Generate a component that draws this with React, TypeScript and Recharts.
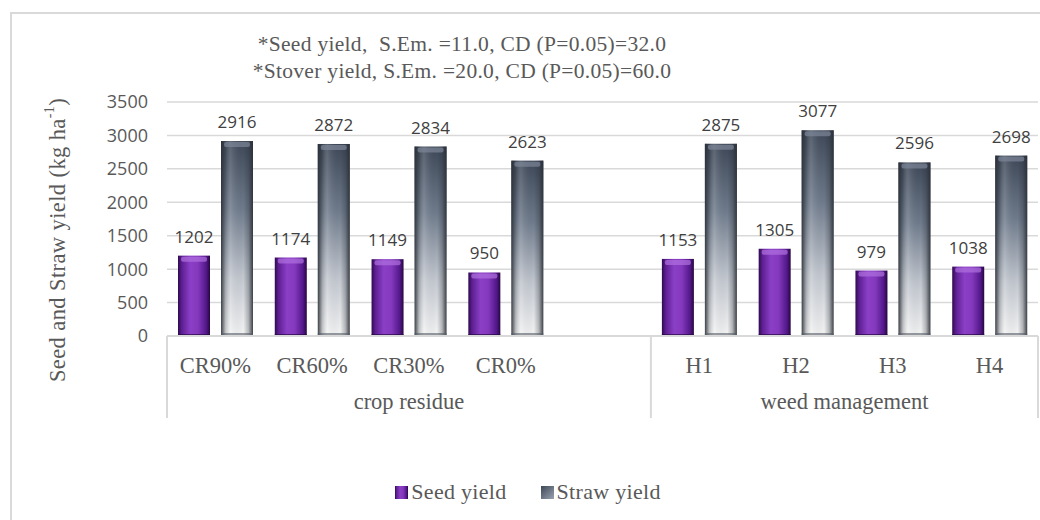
import React from "react";
import { BarChart, Bar, XAxis, YAxis, CartesianGrid, LabelList, Legend } from "recharts";

const categories = ["CR90%", "CR60%", "CR30%", "CR0%", "", "H1", "H2", "H3", "H4"];
const groups = [
  "crop residue", "crop residue", "crop residue", "crop residue", "crop residue",
  "weed management", "weed management", "weed management", "weed management",
];
const seedYield = [1202, 1174, 1149, 950, null, 1153, 1305, 979, 1038];
const strawYield = [2916, 2872, 2834, 2623, null, 2875, 3077, 2596, 2698];
const yTicks = [0, 500, 1000, 1500, 2000, 2500, 3000, 3500];
const titleLines = [
  "*Seed yield,  S.Em. =11.0, CD (P=0.05)=32.0",
  "*Stover yield, S.Em. =20.0, CD (P=0.05)=60.0",
];

const data = categories.map((cat, i) => ({
  cat,
  group: groups[i],
  seed: seedYield[i],
  straw: strawYield[i],
}));

const SERIF = "'Liberation Serif', 'Times New Roman', serif";
const SANS = "'Open Sans', 'Liberation Sans', sans-serif";
const GRID = "#d9d9d9";
const TEXT = "#595959";

function SeedShape(p: any) {
  const { x, y, width, height } = p;
  if (!height || height <= 0) return null;
  return (
    <g>
      <rect x={x} y={y} width={width} height={height} fill="url(#seedH)" />
      <rect x={x + 3} y={y + 1} width={width - 6} height={5} fill="#b070e0" opacity={0.7} rx={2} />
      <rect x={x} y={y + height - 2} width={width} height={2} fill="#2a0848" opacity={0.7} />
    </g>
  );
}

function StrawShape(p: any) {
  const { x, y, width, height } = p;
  if (!height || height <= 0) return null;
  return (
    <g>
      <rect x={x} y={y} width={width} height={height} fill="url(#strawV)" />
      <rect x={x} y={y} width={width} height={height} fill="url(#strawH)" />
      <rect x={x + 3} y={y + 1} width={width - 6} height={5} fill="#7d8898" opacity={0.7} rx={2} />
      <rect x={x} y={y + height - 3} width={width} height={3} fill="#555c66" opacity={0.6} />
    </g>
  );
}

function CatTick(props: any) {
  const { x, y, payload } = props;
  const i: number = payload.index ?? props.index;
  const off: number = payload.offset ?? 0;
  const first = i === 0 || groups[i - 1] !== groups[i];
  const n = groups.filter((g) => g === groups[i]).length;
  const last = i === categories.length - 1;
  const txt = { fontFamily: SERIF, fontSize: 22.5, fill: TEXT };
  return (
    <g>
      {categories[i] ? (
        <text x={x} y={y + 37} textAnchor="middle" style={txt}>
          {categories[i]}
        </text>
      ) : null}
      {first ? (
        <>
          <line x1={x - off} x2={x - off} y1={y} y2={y + 82} stroke={GRID} strokeWidth={2} />
          <text x={x - off + n * off} y={y + 73} textAnchor="middle" style={txt}>
            {groups[i]}
          </text>
        </>
      ) : null}
      {last ? <line x1={x + off} x2={x + off} y1={y} y2={y + 82} stroke={GRID} strokeWidth={2} /> : null}
    </g>
  );
}

function YLabel(p: any) {
  const vb = p.viewBox || { x: 0, y: 102, width: 167, height: 234 };
  const cx = vb.x + 57;
  const cy = vb.y + vb.height / 2 + 21;
  return (
    <text
      x={cx}
      y={cy}
      transform={`rotate(-90, ${cx}, ${cy})`}
      textAnchor="middle"
      dominantBaseline="central"
      style={{ fontFamily: SERIF, fontSize: 22.5, letterSpacing: 0.4, fill: TEXT }}
    >
      Seed and Straw yield (kg ha
      <tspan style={{ fontSize: 14 }} dy={-8}>-1</tspan>
      <tspan dy={8}>)</tspan>
    </text>
  );
}

function LegendContent(p: any) {
  const items = p.payload || [];
  return (
    <div style={{ display: "flex", justifyContent: "center", paddingLeft: 16, gap: 34 }}>
      {items.map((it: any) => (
        <div key={it.value} style={{ display: "flex", alignItems: "center", gap: 3 }}>
          <svg width={13} height={13}>
            <rect width={13} height={13} fill={it.dataKey === "seed" ? "url(#seedH)" : "url(#strawLeg)"} />
          </svg>
          <span style={{ fontFamily: SERIF, fontSize: 22, color: TEXT, letterSpacing: 0.3 }}>{it.value}</span>
        </div>
      ))}
    </div>
  );
}

export default function App() {
  return (
    <div style={{ position: "absolute", left: 0, top: 0, width: 1040, height: 520, background: "#fff", overflow: "hidden" }}>
      <div
        style={{ position: "absolute", left: 10, top: 12, width: 1100, height: 600, border: `2px solid ${GRID}` }}
      />
      <div
        style={{
          position: "absolute",
          left: 462,
          top: 31,
          transform: "translateX(-50%)",
          fontFamily: SERIF,
          fontSize: 21.5,
          lineHeight: "27px",
          letterSpacing: 0.3,
          color: TEXT,
          whiteSpace: "pre",
          textAlign: "center",
          zIndex: 2,
        }}
      >
        {titleLines.map((t) => (
          <div key={t}>{t}</div>
        ))}
      </div>
      <div style={{ position: "absolute", left: 0, top: 0 }}>
        <BarChart
          width={1040}
          height={520}
          data={data}
          margin={{ top: 102, right: 2, left: 0, bottom: 99 }}
          barGap={11}
          barCategoryGap={11}
        >
          <defs>
            <linearGradient id="seedH" x1="0" y1="0" x2="1" y2="0">
              <stop offset="0%" stopColor="#2e0a50" />
              <stop offset="12%" stopColor="#5e1f92" />
              <stop offset="38%" stopColor="#8a3fc6" />
              <stop offset="62%" stopColor="#8439bd" />
              <stop offset="88%" stopColor="#53188a" />
              <stop offset="100%" stopColor="#26073f" />
            </linearGradient>
            <linearGradient id="strawV" x1="0" y1="0" x2="0" y2="1">
              <stop offset="0%" stopColor="#3d4757" />
              <stop offset="35%" stopColor="#6f7b8c" />
              <stop offset="70%" stopColor="#c3c8d0" />
              <stop offset="100%" stopColor="#f4f4f4" />
            </linearGradient>
            <linearGradient id="strawH" x1="0" y1="0" x2="1" y2="0">
              <stop offset="0%" stopColor="#2a2f36" stopOpacity={0.9} />
              <stop offset="14%" stopColor="#2a2f36" stopOpacity={0.25} />
              <stop offset="30%" stopColor="#ffffff" stopOpacity={0.15} />
              <stop offset="70%" stopColor="#2a2f36" stopOpacity={0} />
              <stop offset="86%" stopColor="#2a2f36" stopOpacity={0.3} />
              <stop offset="100%" stopColor="#2a2f36" stopOpacity={0.9} />
            </linearGradient>
            <linearGradient id="strawLeg" x1="0" y1="0" x2="1" y2="1">
              <stop offset="0%" stopColor="#3d4757" />
              <stop offset="100%" stopColor="#9aa3b0" />
            </linearGradient>
          </defs>
          <CartesianGrid vertical={false} stroke={GRID} strokeWidth={1.5} />
          <XAxis
            dataKey="cat"
            interval={0}
            height={85}
            tickSize={0}
            tickMargin={0}
            tickLine={false}
            axisLine={{ stroke: GRID, strokeWidth: 2 }}
            tick={<CatTick />}
          />
          <YAxis
            width={167}
            domain={[0, 3500]}
            ticks={yTicks}
            interval={0}
            axisLine={false}
            tickLine={false}
            tickSize={0}
            tickMargin={19}
            tick={{ fontFamily: SANS, fontSize: 18, fill: TEXT }}
            label={{ content: <YLabel /> }}
          />
          <Legend
            layout="vertical"
            verticalAlign="middle"
            align="center"
            wrapperStyle={{ position: "absolute", top: 479, left: 0, width: 1040 }}
            content={<LegendContent />}
          />
          <Bar dataKey="seed" name="Seed yield" isAnimationActive={false} fill="#7030a0" shape={<SeedShape />}>
            <LabelList dataKey="seed" position="top" offset={13} fill="#404040" fontSize={17} fontFamily={SANS} />
          </Bar>
          <Bar dataKey="straw" name="Straw yield" isAnimationActive={false} fill="#5a6474" shape={<StrawShape />}>
            <LabelList dataKey="straw" position="top" offset={13} fill="#404040" fontSize={17} fontFamily={SANS} />
          </Bar>
        </BarChart>
      </div>
    </div>
  );
}
